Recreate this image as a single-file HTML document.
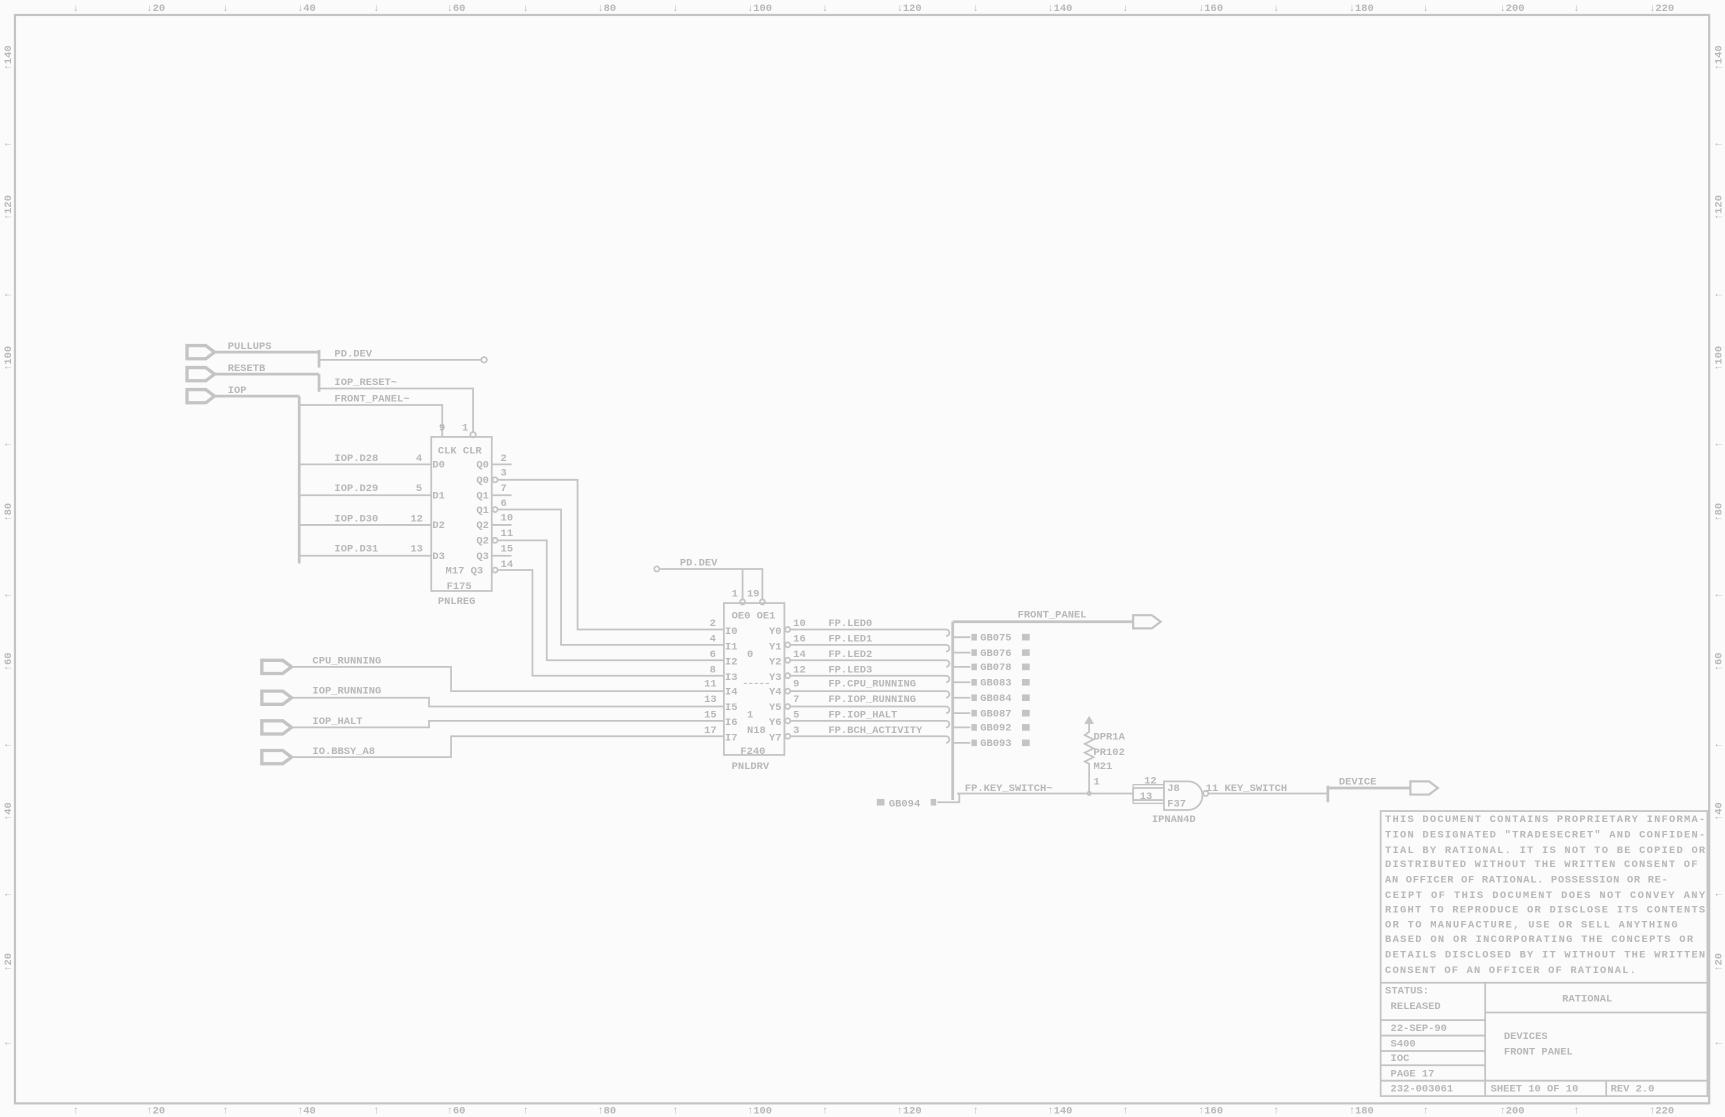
<!DOCTYPE html>
<html><head><meta charset="utf-8"><style>
html,body{margin:0;padding:0;background:#fbfbfb;}
svg{display:block}
text{font-family:"Liberation Mono",monospace;font-weight:bold;fill:#b8b8b8;font-size:9.5px;}
</style></head><body>
<svg width="1725" height="1117" viewBox="0 0 1568 1015" preserveAspectRatio="none" xmlns="http://www.w3.org/2000/svg">
<rect x="0" y="0" width="1568" height="1015" fill="#fbfbfb"/>
<g stroke="#c4c4c4" fill="none" stroke-width="1.6">
<rect x="13.6" y="13.6" width="1540" height="989" stroke-width="2"/>
</g>
<!-- rulers -->
<g>
<text x="66" y="10">↓</text><text x="133" y="10">↓20</text><text x="202" y="10">↓</text><text x="270" y="10">↓40</text>
<text x="339" y="10">↓</text><text x="406" y="10">↓60</text><text x="475" y="10">↓</text><text x="543" y="10">↓80</text>
<text x="611" y="10">↓</text><text x="679" y="10">↓100</text><text x="747" y="10">↓</text><text x="815" y="10">↓120</text>
<text x="884" y="10">↓</text><text x="952" y="10">↓140</text><text x="1020" y="10">↓</text><text x="1089" y="10">↓160</text>
<text x="1157" y="10">↓</text><text x="1226" y="10">↓180</text><text x="1293" y="10">↓</text><text x="1363" y="10">↓200</text>
<text x="1430" y="10">↓</text><text x="1499" y="10">↓220</text>
<text x="66" y="1012">↑</text><text x="133" y="1012">↑20</text><text x="202" y="1012">↑</text><text x="270" y="1012">↑40</text>
<text x="339" y="1012">↑</text><text x="406" y="1012">↑60</text><text x="475" y="1012">↑</text><text x="543" y="1012">↑80</text>
<text x="611" y="1012">↑</text><text x="679" y="1012">↑100</text><text x="747" y="1012">↑</text><text x="815" y="1012">↑120</text>
<text x="884" y="1012">↑</text><text x="952" y="1012">↑140</text><text x="1020" y="1012">↑</text><text x="1089" y="1012">↑160</text>
<text x="1157" y="1012">↑</text><text x="1226" y="1012">↑180</text><text x="1293" y="1012">↑</text><text x="1363" y="1012">↑200</text>
<text x="1430" y="1012">↑</text><text x="1499" y="1012">↑220</text>
</g>
<g>
<text transform="translate(10,64) rotate(-90)">↑140</text><text transform="translate(10,134) rotate(-90)">↑</text>
<text transform="translate(10,200) rotate(-90)">↑120</text><text transform="translate(10,271) rotate(-90)">↑</text>
<text transform="translate(10,337) rotate(-90)">↑100</text><text transform="translate(10,407) rotate(-90)">↑</text>
<text transform="translate(10,474) rotate(-90)">↑80</text><text transform="translate(10,544) rotate(-90)">↑</text>
<text transform="translate(10,610) rotate(-90)">↑60</text><text transform="translate(10,680) rotate(-90)">↑</text>
<text transform="translate(10,746) rotate(-90)">↑40</text><text transform="translate(10,816) rotate(-90)">↑</text>
<text transform="translate(10,883) rotate(-90)">↑20</text><text transform="translate(10,951) rotate(-90)">↑</text>
<text transform="translate(1565,64) rotate(-90)">↑140</text><text transform="translate(1565,134) rotate(-90)">↑</text>
<text transform="translate(1565,200) rotate(-90)">↑120</text><text transform="translate(1565,271) rotate(-90)">↑</text>
<text transform="translate(1565,337) rotate(-90)">↑100</text><text transform="translate(1565,407) rotate(-90)">↑</text>
<text transform="translate(1565,474) rotate(-90)">↑80</text><text transform="translate(1565,544) rotate(-90)">↑</text>
<text transform="translate(1565,610) rotate(-90)">↑60</text><text transform="translate(1565,680) rotate(-90)">↑</text>
<text transform="translate(1565,746) rotate(-90)">↑40</text><text transform="translate(1565,816) rotate(-90)">↑</text>
<text transform="translate(1565,883) rotate(-90)">↑20</text><text transform="translate(1565,951) rotate(-90)">↑</text>
</g>

<g stroke="#c4c4c4" fill="none" stroke-width="1.6">
<!-- left ports -->
<path d="M170,314 h17 l8,6 l-8,6 h-17 z" stroke-width="3"/>
<path d="M170,334 h17 l8,6 l-8,6 h-17 z" stroke-width="3"/>
<path d="M170,354 h17 l8,6 l-8,6 h-17 z" stroke-width="3"/>
<path d="M195,320 H290" stroke-width="2.5"/><path d="M290,318 V334" stroke-width="2.5"/>
<path d="M290,327 H437"/><circle cx="440" cy="327" r="2.5"/>
<path d="M195,340 H290" stroke-width="2.5"/><path d="M290,340 V356" stroke-width="2.5"/>
<path d="M290,353 H430 V393"/><circle cx="430" cy="395" r="2.5"/>
<path d="M195,360 H272" stroke-width="2.5"/><path d="M272,360 V512" stroke-width="2.5"/>
<path d="M272,368 H402 V397"/>
<path d="M272,422 H392 M272,450 H392 M272,477 H392 M272,505 H392"/>
<!-- register -->
<rect x="392" y="397" width="55" height="140"/>
<path d="M447,422 H465 M447,450 H465 M447,477 H465 M447,505 H465"/>
<circle cx="450" cy="436" r="2.3"/><circle cx="450" cy="463" r="2.3"/><circle cx="450" cy="491" r="2.3"/><circle cx="450" cy="518" r="2.3"/>
<path d="M452,436 H525 V572 H658"/>
<path d="M452,463 H510 V586 H658"/>
<path d="M452,491 H497 V600 H658"/>
<path d="M452,518 H484 V614 H658"/>
<!-- lower-left ports -->
<path d="M238,600 h19 l8,6 l-8,6 h-19 z" stroke-width="3"/>
<path d="M238,628 h19 l8,6 l-8,6 h-19 z" stroke-width="3"/>
<path d="M238,655 h19 l8,6 l-8,6 h-19 z" stroke-width="3"/>
<path d="M238,682 h19 l8,6 l-8,6 h-19 z" stroke-width="3"/>
<path d="M265,606 H410 V628 H658"/>
<path d="M265,634 H390 V642 H658"/>
<path d="M265,661 H390 V655 H658"/>
<path d="M265,688 H410 V669 H658"/>
<!-- driver -->
<circle cx="597" cy="517" r="2.3"/><path d="M600,517 H693 V545"/><path d="M675,517 V545"/>
<circle cx="675" cy="547" r="2.3"/><circle cx="693" cy="547" r="2.3"/>
<rect x="658" y="548" width="55" height="138"/>
<path d="M676,621 H700" stroke-dasharray="3,2" stroke-width="1"/>
<g>
<circle cx="716" cy="572" r="2.3"/><circle cx="716" cy="586" r="2.3"/><circle cx="716" cy="600" r="2.3"/><circle cx="716" cy="614" r="2.3"/>
<circle cx="716" cy="628" r="2.3"/><circle cx="716" cy="642" r="2.3"/><circle cx="716" cy="655" r="2.3"/><circle cx="716" cy="669" r="2.3"/>
</g>
<path d="M718,572 H860 M718,586 H860 M718,600 H860 M718,614 H860 M718,628 H860 M718,642 H860 M718,655 H860 M718,669 H860"/>
<path d="M860,572 a3,3 0 0 1 0,6 M860,586 a3,3 0 0 1 0,6 M860,600 a3,3 0 0 1 0,6 M860,614 a3,3 0 0 1 0,6 M860,628 a3,3 0 0 1 0,6 M860,642 a3,3 0 0 1 0,6 M860,655 a3,3 0 0 1 0,6 M860,669 a3,3 0 0 1 0,6"/>
<path d="M866,565 V727" stroke-width="2.5"/>
<path d="M866,565 H1030" stroke-width="2.5"/>
<path d="M1030,559 h17 l8,6 l-8,6 h-17 z" stroke-width="2"/>
<path d="M866,579 H882 M866,593 H882 M866,606 H882 M866,620 H882 M866,634 H882 M866,648 H882 M866,661 H882 M866,675 H882"/>
<!-- GB094 -->
<path d="M852,729 H872 V721"/>
<path d="M870,721 H1030"/>
<!-- resistor -->
<path d="M990,655 V665 l-4,3 l8,4 l-8,4 l8,4 l-8,4 l8,4 l-8,4 l4,2 V721"/>
<path d="M987,657 l3,-5 l3,5 z" fill="#c4c4c4"/>
<circle cx="990" cy="721" r="1.5" fill="#c4c4c4"/>
<!-- gate -->
<path d="M1030,716 V727 H1058"/><path d="M1030,716 H1058"/>
<rect x="1030" y="713" width="28" height="17" stroke-width="1.2"/>
<path d="M1058,710 H1080 a13,13 0 0 1 0,26 H1058 Z"/>
<circle cx="1096" cy="721" r="2.3"/>
<path d="M1098,721 H1207" />
<path d="M1207,714 V729" stroke-width="2.5"/>
<path d="M1207,716 H1282" stroke-width="2.5"/>
<path d="M1282,710 h17 l8,6 l-8,6 h-17 z" stroke-width="2"/>
<!-- title block -->
<rect x="1255" y="737" width="297" height="259"/>
<path d="M1255,893 H1552 M1350,893 V996 M1350,920 H1552 M1350,982 H1552 M1460,982 V996 M1255,927 H1350 M1255,941 H1350 M1255,955 H1350 M1255,968 H1350 M1255,982 H1350"/>
</g>
<g fill="#c4c4c4">
<rect x="883" y="576" width="5" height="6"/><rect x="929" y="576" width="7" height="6"/>
<rect x="883" y="590" width="5" height="6"/><rect x="929" y="590" width="7" height="6"/>
<rect x="883" y="603" width="5" height="6"/><rect x="929" y="603" width="7" height="6"/>
<rect x="883" y="617" width="5" height="6"/><rect x="929" y="617" width="7" height="6"/>
<rect x="883" y="631" width="5" height="6"/><rect x="929" y="631" width="7" height="6"/>
<rect x="883" y="645" width="5" height="6"/><rect x="929" y="645" width="7" height="6"/>
<rect x="883" y="658" width="5" height="6"/><rect x="929" y="658" width="7" height="6"/>
<rect x="883" y="672" width="5" height="6"/><rect x="929" y="672" width="7" height="6"/>
<rect x="797" y="726" width="7" height="6"/><rect x="846" y="726" width="5" height="6"/>
</g>
<!-- labels -->
<g>
<text x="207" y="317">PULLUPS</text><text x="207" y="337">RESETB</text><text x="207" y="357">IOP</text>
<text x="304" y="324">PD.DEV</text><text x="304" y="350">IOP_RESET~</text><text x="304" y="365">FRONT_PANEL~</text>
<text x="399" y="391">9</text><text x="420" y="391">1</text>
<text x="398" y="412">CLK CLR</text>
<text x="304" y="419">IOP.D28</text><text x="378" y="419">4</text>
<text x="304" y="446">IOP.D29</text><text x="378" y="446">5</text>
<text x="304" y="474">IOP.D30</text><text x="373" y="474">12</text>
<text x="304" y="501">IOP.D31</text><text x="373" y="501">13</text>
<text x="393" y="425">D0</text><text x="393" y="453">D1</text><text x="393" y="480">D2</text><text x="393" y="508">D3</text>
<text x="433" y="425">Q0</text><text x="433" y="439">Q0</text><text x="433" y="453">Q1</text><text x="433" y="466">Q1</text>
<text x="433" y="480">Q2</text><text x="433" y="494">Q2</text><text x="433" y="508">Q3</text><text x="405" y="521">M17 Q3</text>
<text x="406" y="535">F175</text><text x="398" y="549">PNLREG</text>
<text x="455" y="419">2</text><text x="455" y="432">3</text><text x="455" y="446">7</text><text x="455" y="460">6</text>
<text x="455" y="473">10</text><text x="455" y="487">11</text><text x="455" y="501">15</text><text x="455" y="515">14</text>
<text x="618" y="514">PD.DEV</text><text x="665" y="542">1</text><text x="679" y="542">19</text>
<text x="665" y="562">OE0 OE1</text>
<text x="645" y="569">2</text><text x="645" y="583">4</text><text x="645" y="597">6</text><text x="645" y="611">8</text>
<text x="640" y="624">11</text><text x="640" y="638">13</text><text x="640" y="652">15</text><text x="640" y="666">17</text>
<text x="659" y="576">I0</text><text x="659" y="590">I1</text><text x="659" y="604">I2</text><text x="659" y="618">I3</text>
<text x="659" y="631">I4</text><text x="659" y="645">I5</text><text x="659" y="659">I6</text><text x="659" y="673">I7</text>
<text x="699" y="576">Y0</text><text x="699" y="590">Y1</text><text x="699" y="604">Y2</text><text x="699" y="618">Y3</text>
<text x="699" y="631">Y4</text><text x="699" y="645">Y5</text><text x="699" y="659">Y6</text><text x="699" y="673">Y7</text>
<text x="679" y="597">0</text><text x="679" y="652">1</text><text x="679" y="666">N18</text>
<text x="673" y="685">F240</text><text x="665" y="699">PNLDRV</text>
<text x="284" y="603">CPU_RUNNING</text><text x="284" y="630">IOP_RUNNING</text><text x="284" y="658">IOP_HALT</text><text x="284" y="685">IO.BBSY_A8</text>
<text x="721" y="569">10</text><text x="721" y="583">16</text><text x="721" y="597">14</text><text x="721" y="611">12</text>
<text x="721" y="624">9</text><text x="721" y="638">7</text><text x="721" y="652">5</text><text x="721" y="666">3</text>
<text x="753" y="569">FP.LED0</text><text x="753" y="583">FP.LED1</text><text x="753" y="597">FP.LED2</text><text x="753" y="611">FP.LED3</text>
<text x="753" y="624">FP.CPU_RUNNING</text><text x="753" y="638">FP.IOP_RUNNING</text><text x="753" y="652">FP.IOP_HALT</text><text x="753" y="666">FP.BCH_ACTIVITY</text>
<text x="925" y="561">FRONT_PANEL</text>
<text x="891" y="582">GB075</text><text x="891" y="596">GB076</text><text x="891" y="609">GB078</text><text x="891" y="623">GB083</text>
<text x="891" y="637">GB084</text><text x="891" y="651">GB087</text><text x="891" y="664">GB092</text><text x="891" y="678">GB093</text>
<text x="808" y="733">GB094</text>
<text x="877" y="719">FP.KEY_SWITCH~</text>
<text x="994" y="672">DPR1A</text><text x="994" y="686">PR102</text><text x="994" y="699">M21</text><text x="994" y="713">1</text>
<text x="1040" y="712">12</text><text x="1036" y="726">13</text><text x="1061" y="719">J8</text><text x="1061" y="733">F37</text>
<text x="1047" y="747">IPNAN4D</text>
<text x="1096" y="719">11 KEY_SWITCH</text><text x="1217" y="713">DEVICE</text>
</g>
<g>
<text x="1259" y="747" textLength="291">THIS DOCUMENT CONTAINS PROPRIETARY INFORMA-</text>
<text x="1259" y="761" textLength="291">TION DESIGNATED "TRADESECRET" AND CONFIDEN-</text>
<text x="1259" y="775" textLength="291">TIAL BY RATIONAL. IT IS NOT TO BE COPIED OR</text>
<text x="1259" y="788" textLength="284">DISTRIBUTED WITHOUT THE WRITTEN CONSENT OF</text>
<text x="1259" y="802" textLength="257">AN OFFICER OF RATIONAL. POSSESSION OR RE-</text>
<text x="1259" y="816" textLength="291">CEIPT OF THIS DOCUMENT DOES NOT CONVEY ANY</text>
<text x="1259" y="829" textLength="291">RIGHT TO REPRODUCE OR DISCLOSE ITS CONTENTS</text>
<text x="1259" y="843" textLength="266">OR TO MANUFACTURE, USE OR SELL ANYTHING</text>
<text x="1259" y="856" textLength="280">BASED ON OR INCORPORATING THE CONCEPTS OR</text>
<text x="1259" y="870" textLength="291">DETAILS DISCLOSED BY IT WITHOUT THE WRITTEN</text>
<text x="1259" y="884" textLength="228">CONSENT OF AN OFFICER OF RATIONAL.</text>
<text x="1259" y="903">STATUS:</text><text x="1264" y="917">RELEASED</text>
<text x="1420" y="910">RATIONAL</text>
<text x="1264" y="937">22-SEP-90</text><text x="1264" y="951">S400</text><text x="1264" y="964">IOC</text><text x="1264" y="978">PAGE  17</text>
<text x="1264" y="992">232-003061</text>
<text x="1367" y="944">DEVICES</text><text x="1367" y="958">FRONT PANEL</text>
<text x="1355" y="992">SHEET 10 OF 10</text><text x="1464" y="992">REV  2.0</text>
</g>
</svg>
</body></html>
